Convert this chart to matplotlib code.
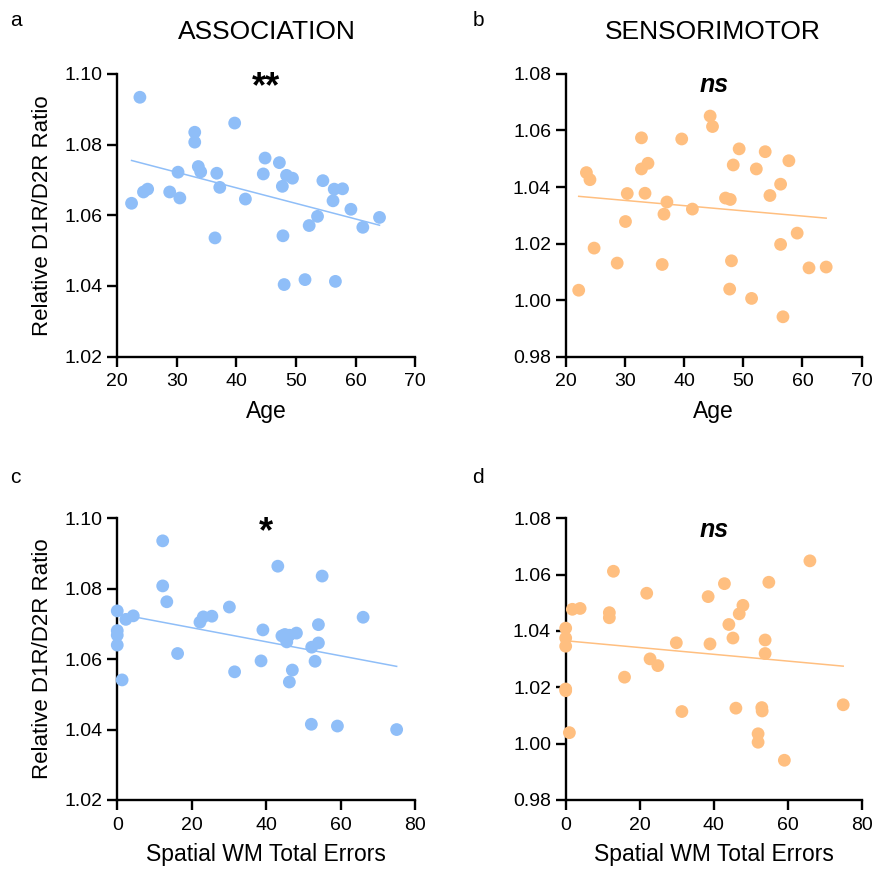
import numpy as np
import matplotlib
matplotlib.use("Agg")
import matplotlib.pyplot as plt
from matplotlib.ticker import FormatStrFormatter

plt.rcParams["font.family"] = ["Liberation Sans", "DejaVu Sans"]

BLUE = "#8FBEF8"
ORANGE = "#FFBF80"

# panel a: association vs age
age_assoc = [23.8, 39.7, 33.0, 33.0, 44.8, 47.2, 30.2, 33.6, 34.0, 36.7,
             44.5, 48.4, 49.4, 54.5, 37.2, 47.7, 56.4, 57.8, 24.4, 25.1,
             28.8, 30.5, 41.5, 22.4, 56.2, 59.2, 64.0, 53.6, 52.2, 61.2,
             36.4, 47.8, 51.5, 48.0, 56.6]
ratio_assoc_age = [1.0934, 1.0861, 1.0835, 1.0807, 1.0762, 1.0749, 1.0722, 1.0738, 1.0723, 1.0719,
                   1.0717, 1.0713, 1.0705, 1.0698, 1.0679, 1.0682, 1.0674, 1.0675, 1.0666, 1.0674,
                   1.0666, 1.0649, 1.0646, 1.0634, 1.0641, 1.0617, 1.0594, 1.0597, 1.0571, 1.0566,
                   1.0536, 1.0542, 1.0418, 1.0404, 1.0413]

# panel b: sensorimotor vs age
age_sens = [44.4, 44.8, 32.8, 39.6, 49.3, 53.7, 57.7, 33.9, 32.8, 48.3,
            52.2, 23.5, 24.1, 56.3, 30.4, 33.4, 47.0, 47.8, 54.5, 37.1,
            41.4, 36.6, 30.1, 59.1, 56.3, 24.8, 28.7, 36.3, 48.0, 61.1,
            64.0, 22.2, 47.7, 51.4, 56.7]
ratio_sens_age = [1.0651, 1.0614, 1.0574, 1.0570, 1.0535, 1.0525, 1.0493, 1.0484, 1.0464, 1.0478,
                  1.0464, 1.0451, 1.0426, 1.0410, 1.0377, 1.0378, 1.0361, 1.0356, 1.0370, 1.0347,
                  1.0322, 1.0304, 1.0278, 1.0237, 1.0197, 1.0184, 1.0131, 1.0126, 1.0139, 1.0114,
                  1.0117, 1.0035, 1.0039, 1.0006, 0.9941]

# panel c: association vs spatial WM errors
err_assoc = [12.2, 43.1, 55.0, 12.2, 13.3, 0.0, 2.3, 4.3, 30.1, 23.1,
             25.4, 22.2, 66.0, 54.0, 0.0, 0.0, 39.1, 44.2, 46.2, 48.1,
             45.5, 54.0, 52.2, 0.0, 16.2, 38.6, 53.1, 31.5, 47.0, 46.2,
             1.3, 52.1, 59.1, 75.0, 45.0]
ratio_assoc_err = [1.0936, 1.0864, 1.0836, 1.0808, 1.0763, 1.0737, 1.0713, 1.0723, 1.0748, 1.0720,
                   1.0722, 1.0705, 1.0719, 1.0698, 1.0681, 1.0668, 1.0683, 1.0666, 1.0668, 1.0674,
                   1.0649, 1.0646, 1.0634, 1.0640, 1.0616, 1.0595, 1.0594, 1.0564, 1.0569, 1.0535,
                   1.0541, 1.0415, 1.0410, 1.0400, 1.0670]

# panel d: sensorimotor vs spatial WM errors
err_sens = [66.0, 12.9, 54.9, 42.9, 21.9, 38.5, 47.9, 46.9, 1.8, 3.9,
            11.8, 11.8, 44.1, 0.0, 0.0, 0.0, 45.2, 53.9, 29.9, 39.0,
            53.9, 22.8, 24.9, 15.9, 0.0, 75.0, 46.0, 31.4, 53.1, 1.0,
            52.0, 52.0, 59.1, 0.0, 53.0]
ratio_sens_err = [1.0649, 1.0612, 1.0573, 1.0568, 1.0534, 1.0522, 1.0491, 1.0461, 1.0477, 1.0480,
                  1.0465, 1.0447, 1.0423, 1.0410, 1.0375, 1.0346, 1.0375, 1.0368, 1.0358, 1.0354,
                  1.0320, 1.0301, 1.0277, 1.0236, 1.0194, 1.0138, 1.0126, 1.0114, 1.0116, 1.0039,
                  1.0035, 1.0005, 0.9941, 1.0188, 1.0128]


def draw_panel(ax, x, y, color, xlim, xticks, ylim, yticks, mark, italic):
    x = np.array(x)
    y = np.array(y)
    ax.scatter(x, y, s=85, color=color, edgecolors="none", zorder=3, clip_on=False)
    slope, inter = np.polyfit(x, y, 1)
    xs = np.array([x.min(), x.max()])
    ax.plot(xs, slope * xs + inter, color=color, lw=1.1, zorder=2)
    ax.set_xlim(*xlim)
    ax.set_ylim(*ylim)
    ax.set_xticks(xticks)
    ax.set_yticks(yticks)
    ax.yaxis.set_major_formatter(FormatStrFormatter("%.2f"))
    for side in ["top", "right"]:
        ax.spines[side].set_visible(False)
    for side in ["left", "bottom"]:
        ax.spines[side].set_linewidth(1.7)
    ax.tick_params(axis="both", width=1.7, length=7, labelsize=14, direction="out")
    ax.tick_params(axis="x", pad=5)
    if italic:
        ax.text(0.5, 0.96, mark, transform=ax.transAxes, ha="center", va="center",
                fontsize=18, fontweight="bold", style="italic")
    else:
        ax.text(0.5, 0.95, mark, transform=ax.transAxes, ha="center", va="center",
                fontsize=26, fontweight="bold")


fig = plt.figure(figsize=(8.75, 8.72), dpi=100)

ax_a = fig.add_axes([0.134, 0.591, 0.3406, 0.3242])
ax_b = fig.add_axes([0.6465, 0.591, 0.3383, 0.3242])
ax_c = fig.add_axes([0.134, 0.0826, 0.3406, 0.3230])
ax_d = fig.add_axes([0.6465, 0.0826, 0.3383, 0.3230])

draw_panel(ax_a, age_assoc, ratio_assoc_age, BLUE, (20, 70), range(20, 71, 10),
           (1.02, 1.10), np.arange(1.02, 1.101, 0.02), "**", False)
draw_panel(ax_b, age_sens, ratio_sens_age, ORANGE, (20, 70), range(20, 71, 10),
           (0.98, 1.08), np.arange(0.98, 1.081, 0.02), "ns", True)
draw_panel(ax_c, err_assoc, ratio_assoc_err, BLUE, (0, 80), range(0, 81, 20),
           (1.02, 1.10), np.arange(1.02, 1.101, 0.02), "*", False)
draw_panel(ax_d, err_sens, ratio_sens_err, ORANGE, (0, 80), range(0, 81, 20),
           (0.98, 1.08), np.arange(0.98, 1.081, 0.02), "ns", True)

for ax in [ax_a, ax_b]:
    ax.set_xlabel("Age", fontsize=16.5, labelpad=7)
for ax in [ax_c, ax_d]:
    ax.set_xlabel("Spatial WM Total Errors", fontsize=16.5, labelpad=7)
for ax in [ax_a, ax_c]:
    ax.set_ylabel("Relative D1R/D2R Ratio", fontsize=16, labelpad=8)

fig.text(0.3045, 0.963, "ASSOCIATION", ha="center", va="center", fontsize=19)
fig.text(0.815, 0.963, "SENSORIMOTOR", ha="center", va="center", fontsize=19)

fig.text(0.012, 0.977, "a", ha="left", va="center", fontsize=15)
fig.text(0.54, 0.977, "b", ha="left", va="center", fontsize=15)
fig.text(0.012, 0.452, "c", ha="left", va="center", fontsize=15)
fig.text(0.54, 0.452, "d", ha="left", va="center", fontsize=15)

fig.savefig("out.png", dpi=100)
